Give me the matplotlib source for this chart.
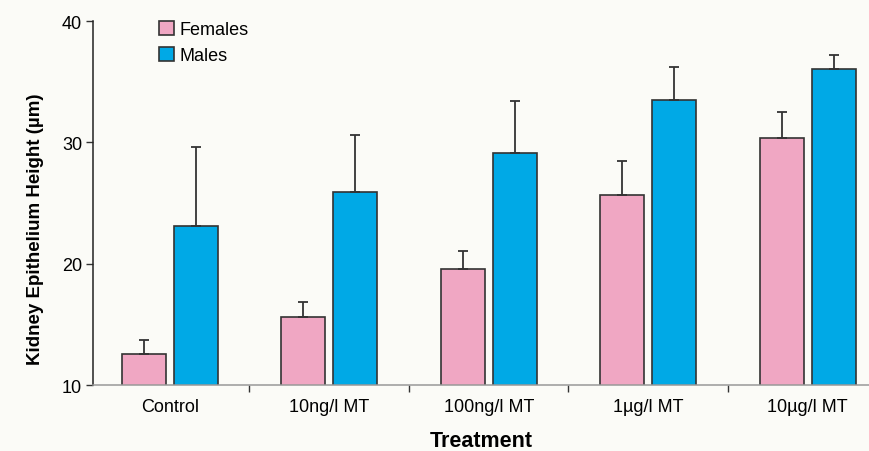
import matplotlib.pyplot as plt
import numpy as np

treatments = ["Control", "10ng/l MT", "100ng/l MT", "1\u00b5g/l MT", "10\u00b5g/l MT"]
females = [12.55, 15.6, 19.55, 25.65, 30.35]
females_err = [1.15, 1.25, 1.5, 2.8, 2.15]
males = [23.1, 25.9, 29.1, 33.5, 36.05]
males_err = [6.5, 4.7, 4.3, 2.7, 1.15]

bg = "#fbfbf7"
pink = "#f0a7c3"
blue = "#00a9e6"
edge = "#333333"

plt.rcParams["font.family"] = ["Liberation Sans", "DejaVu Sans"]

fig = plt.figure(figsize=(8.7, 4.52), dpi=100, facecolor=bg)
ax = fig.add_axes([0.107, 0.146, 0.893, 0.805], facecolor=bg)

x = np.arange(len(treatments))
w = 0.275
off = 0.1625
err_kw = dict(ecolor=edge, elinewidth=1.3, capsize=3.5, capthick=1.3)
ax.bar(x - off, females, w, bottom=0, color=pink, edgecolor=edge, linewidth=1.2,
       yerr=[np.zeros(len(females)), females_err], error_kw=err_kw, label="Females", zorder=2)
ax.bar(x + off, males, w, bottom=0, color=blue, edgecolor=edge, linewidth=1.2,
       yerr=[np.zeros(len(males)), males_err], error_kw=err_kw, label="Males", zorder=2)

ax.set_ylim(10, 40)
ax.set_yticks([10, 20, 30, 40])
ax.set_xlim(-0.48, 4.39)
ax.set_xticks(x)
ax.set_xticklabels(treatments, fontsize=13)
ax.set_xticks(x[:-1] + 0.5, minor=True)
ax.tick_params(axis="x", which="major", length=0, pad=9)
ax.tick_params(axis="x", which="minor", length=5, width=1, color=edge, direction="out")
ax.tick_params(axis="y", labelsize=13, length=5, width=1, color=edge, direction="out", pad=3)

for s in ["top", "right"]:
    ax.spines[s].set_visible(False)
ax.spines["left"].set_color("#222222")
ax.spines["left"].set_linewidth(1.1)
ax.spines["bottom"].set_color("#999999")
ax.spines["bottom"].set_linewidth(1.1)

ax.set_ylabel("Kidney Epithelium Height (\u00b5m)", fontsize=13.5, fontweight="bold")
ax.yaxis.set_label_coords(-0.063, 0.43)
ax.set_xlabel("Treatment", fontsize=15.5, fontweight="bold", labelpad=11)

leg = ax.legend(loc="upper left", bbox_to_anchor=(0.064, 1.045), frameon=False,
                fontsize=13, handlelength=0.8, handleheight=0.8, handletextpad=0.35,
                labelspacing=0.5)

fig.savefig("out.png", dpi=100, facecolor=bg)
